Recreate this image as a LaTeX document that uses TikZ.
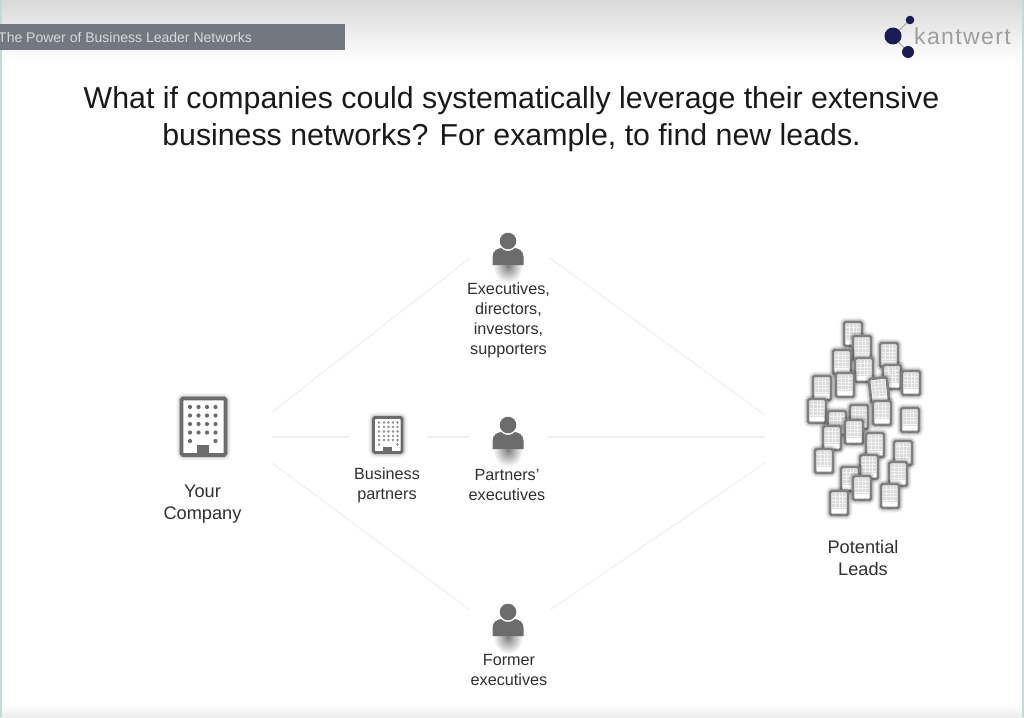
\documentclass[tikz,border=0pt]{standalone}
\usepackage{fontspec}
\setmainfont{Liberation Sans}
\usetikzlibrary{calc}
\definecolor{iconcol}{HTML}{6C6C6C}
\definecolor{barcol}{HTML}{737780}
\definecolor{navy}{HTML}{1C1C52}
\definecolor{linkcol}{HTML}{F0F0F0}
\definecolor{txtcol}{HTML}{303030}
\definecolor{edgecol}{HTML}{BFDADD}
\tikzset{
  lbl/.style={font=\fontsize{16.2}{20}\selectfont, text=txtcol, align=center, inner sep=0pt},
  lblbig/.style={font=\fontsize{18.2}{22}\selectfont, text=txtcol, align=center, inner sep=0pt},
  titletxt/.style={font=\fontsize{30.3}{36.5}\selectfont, text=black!90, align=center, inner sep=0pt},
  link/.style={draw=linkcol, line width=1.1pt},
  glow/.style={draw=black, rounded corners=2.5pt},
  wall/.style={draw=iconcol, fill=white, rounded corners=1.5pt},
  logodot/.style={fill=navy, draw=none}
}
\newcommand{\bldgbody}[4]{%
  \draw[glow, opacity=.04, line width=11pt] (#1,#2) rectangle (#3,#4);
  \draw[glow, opacity=.06, line width=8pt] (#1,#2) rectangle (#3,#4);
  \draw[glow, opacity=.10, line width=5.5pt] (#1,#2) rectangle (#3,#4);
}
% small building in the cloud: centre x, centre y, rotation
\newcommand{\lead}[3]{%
  \begin{scope}[shift={(#1,#2)}, rotate=#3]
    \draw[black, opacity=.05, line width=9pt, rounded corners=3pt] (-9,-12) rectangle (9,12);
    \draw[black, opacity=.10, line width=6.5pt, rounded corners=2pt] (-9,-12) rectangle (9,12);
    \draw[draw=black!50, fill=white, line width=2.8pt, rounded corners=1.5pt] (-9,-12) rectangle (9,12);
    \fill[black!14] (-7,-10) rectangle (7,6);
    \foreach \gx in {-3.5,0,3.5} \draw[white!70!black!14, line width=.6pt] (\gx,-10) -- (\gx,6);
    \foreach \gy in {-6.5,-3,0.5,4} \draw[white!70!black!14, line width=.6pt] (-7,\gy) -- (7,\gy);
    \fill[black!55] (-3.2,12) -- (-3.2,10) arc[start angle=180,end angle=0,radius=3.2] -- (3.2,12) -- cycle;
  \end{scope}
}
\newcommand{\person}[2]{%
  \begin{scope}[shift={(#1,#2)}]
    \shade[inner color=black!50, outer color=white] (0,25) ellipse (15 and 17);
    \fill[iconcol] (0,0) circle (8.3);
    \fill[iconcol] (-15.5,24) -- (-15.5,16) .. controls (-15.5,10) and (-11,7.5) .. (-7,7) .. controls (-3,11) and (3,11) .. (7,7) .. controls (11,7.5) and (15.5,10) .. (15.5,16) -- (15.5,24) -- cycle;
  \end{scope}
}
\begin{document}
\begin{tikzpicture}[x=1pt,y=-1pt]
\useasboundingbox (0,0) rectangle (1024,717);
\fill[white] (0,0) rectangle (1024,717);
\shade[top color=black!15, bottom color=white] (0,0) rectangle (1024,62);
\shade[top color=white, bottom color=black!7] (0,704) rectangle (1024,717);
\fill[edgecol] (0,0) rectangle (1.6,717);
\fill[edgecol] (1021.5,0) rectangle (1024,717);

% header
\node[draw=none, fill=barcol, minimum width=345pt, minimum height=26pt, anchor=north west, inner sep=0pt, outer sep=0pt] (bar) at (0,24) {};
\node[anchor=west, inner sep=0pt, font=\fontsize{14}{16}\selectfont, text=black!15] (bartext) at (-2,37) {The Power of Business Leader Networks};

% logo
\coordinate (lgA) at (893,36);
\coordinate (lgB) at (910,20);
\coordinate (lgC) at (908,52);
\draw[black!30, line width=1.2pt] (lgB) -- (lgA) -- (lgC);
\fill[logodot] (lgA) circle (8.5);
\fill[logodot] (lgB) circle (4.3);
\fill[logodot] (lgC) circle (6);
\node[anchor=west, inner sep=0pt, font=\fontsize{23}{24}\selectfont\addfontfeature{LetterSpace=6}, text=black!38] (logotext) at (914,36.5) {kantwert};

% title
\node[titletxt] (title) at (511.5,119) {What if companies could systematically leverage their extensive\\business networks? For example, to find new leads.};

% connector ends
\coordinate (c1) at (272,412); \coordinate (e1) at (470,258);
\coordinate (e2) at (550,258); \coordinate (l1) at (765,415);
\coordinate (c2) at (272,437); \coordinate (b1) at (350,437);
\coordinate (b2) at (427,437); \coordinate (p1) at (470,437);
\coordinate (p2) at (548,437); \coordinate (l2) at (765,437);
\coordinate (c3) at (272,463); \coordinate (f1) at (470,610);
\coordinate (f2) at (550,610); \coordinate (l3) at (765,463);
\draw[link] (c1) -- (e1);
\draw[link] (e2) -- (l1);
\draw[link] (c2) -- (b1);
\draw[link] (b2) -- (p1);
\draw[link] (p2) -- (l2);
\draw[link] (c3) -- (f1);
\draw[link] (f2) -- (l3);

% your company
\bldgbody{181.5}{398.5}{225.5}{455}
\draw[wall, line width=3.6pt] (181.5,398.5) rectangle (225.5,455);
\foreach \px in {190,198.5,207,215.5} \foreach \py in {407,415.5,424,432.5} \fill[iconcol] (\px,\py) circle (2.1);
\fill[iconcol] (190,441) circle (2.1);
\fill[iconcol] (215.5,441) circle (2.1);
\fill[iconcol] (197,445) rectangle (209,455);

% business partners icon
\bldgbody{373.5}{417.5}{402}{452.5}
\draw[wall, line width=2.9pt] (373.5,417.5) rectangle (402,452.5);
\foreach \px in {379,384,388.5,393,397.5} \foreach \py in {422.5,427,431.5,436,440} \fill[iconcol!75] (\px,\py) circle (1.3);
\fill[iconcol!75] (379,444.5) circle (1.3);
\fill[iconcol!75] (397.5,444.5) circle (1.3);
\fill[iconcol] (383,447) rectangle (392,452.5);

% people
\person{508}{241}
\person{508}{425}
\person{508}{612}

% potential leads
\lead{853}{334}{0}
\lead{862}{348}{0}
\lead{842}{362}{0}
\lead{889}{355}{0}
\lead{864}{370}{0}
\lead{892}{377}{0}
\lead{911}{383}{0}
\lead{845}{385}{0}
\lead{822}{388}{0}
\lead{879}{390}{6}
\lead{817}{411}{0}
\lead{882}{413}{0}
\lead{910}{420}{0}
\lead{859}{417}{0}
\lead{837}{423}{0}
\lead{854}{432}{0}
\lead{832}{438}{0}
\lead{875}{445}{0}
\lead{903}{453}{0}
\lead{824}{461}{0}
\lead{869}{467}{0}
\lead{898}{474}{0}
\lead{850}{479}{0}
\lead{862}{488}{0}
\lead{890}{496}{0}
\lead{839}{503}{0}

% labels
\node[lbl] (execs) at (508.5,320) {Executives,\\directors,\\investors,\\supporters};
\node[lblbig] (yourco) at (202.5,504) {Your\\Company};
\node[lbl] (bizp) at (387,485) {Business\\partners};
\node[lbl] (pexec) at (507,485) {Partners'\\executives};
\node[lbl] (former) at (509,670) {Former\\executives};
\node[lblbig] (leads) at (863,558) {Potential\\Leads};
\end{tikzpicture}
\end{document}
